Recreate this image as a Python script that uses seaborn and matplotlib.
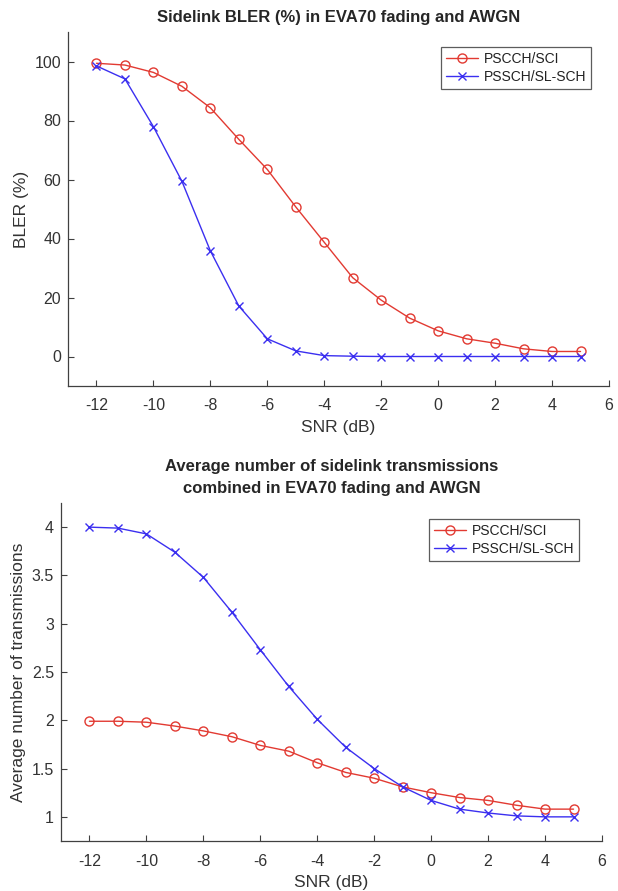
import numpy as np
import pandas as pd
import matplotlib
matplotlib.use("Agg")
import matplotlib.pyplot as plt
import seaborn as sns

snr = [-12, -11, -10, -9, -8, -7, -6, -5, -4, -3, -2, -1, 0, 1, 2, 3, 4, 5]
bler_pscch = [99.4, 98.8, 96.3, 91.6, 84.3, 73.6, 63.4, 50.7, 38.7, 26.7, 19.1, 13.0, 8.7, 6.0, 4.5, 2.6, 1.7, 1.7]
bler_pssch = [98.5, 94.1, 77.9, 59.4, 35.8, 17.1, 6.0, 1.9, 0.3, 0.1, 0.0, 0.0, 0.0, 0.0, 0.0, 0.0, 0.0, 0.0]
tx_pscch = [1.99, 1.99, 1.98, 1.94, 1.89, 1.83, 1.74, 1.68, 1.56, 1.46, 1.40, 1.31, 1.25, 1.20, 1.17, 1.12, 1.08, 1.08]
tx_pssch = [4.00, 3.99, 3.93, 3.74, 3.48, 3.12, 2.73, 2.35, 2.01, 1.72, 1.50, 1.31, 1.17, 1.08, 1.04, 1.01, 1.00, 1.00]
labels = ["PSCCH/SCI", "PSSCH/SL-SCH"]
xticks = [-12, -10, -8, -6, -4, -2, 0, 2, 4, 6]

sns.set_theme(style="ticks")
plt.rcParams['font.family'] = ['Liberation Sans', 'DejaVu Sans']

RED = '#e23a32'
BLUE = '#3b2ff0'
AX_COL = '#404040'
TXT = '#333333'

fig = plt.figure(figsize=(6.18, 8.91), dpi=100)
W, H = 618, 891
ax1 = fig.add_axes([68 / W, 1 - 386 / H, (609 - 68) / W, (386 - 32) / H])
ax2 = fig.add_axes([61 / W, 1 - 841 / H, (602 - 61) / W, (841 - 503) / H])


def draw(ax, y1, y2, leg_anchor):
    df = pd.DataFrame({"snr": snr * 2, "val": list(y1) + list(y2),
                       "series": [labels[0]] * len(snr) + [labels[1]] * len(snr)})
    sns.lineplot(data=df[df.series == labels[0]], x="snr", y="val", ax=ax, color=RED,
                 marker='o', markersize=6.5, mfc='none', mec=RED, mew=1.0, lw=1.0,
                 label=labels[0])
    sns.lineplot(data=df[df.series == labels[1]], x="snr", y="val", ax=ax, color=BLUE,
                 marker='x', markersize=5.5, mec=BLUE, mew=1.0, lw=1.0,
                 label=labels[1])
    ax.set_xlim(-13, 6)
    ax.set_xticks(xticks)
    ax.set_xticklabels([str(t) for t in xticks])
    sns.despine(ax=ax)
    for s in ['left', 'bottom']:
        ax.spines[s].set_color(AX_COL)
        ax.spines[s].set_linewidth(0.9)
    ax.tick_params(direction='in', length=4, width=0.8, color=AX_COL,
                   labelsize=11.5, labelcolor=TXT, pad=5)
    ax.tick_params(axis='x', pad=9)
    ax.set_xlabel("SNR (dB)", fontsize=12.5, color=TXT, labelpad=5)
    leg = ax.legend(loc='upper right', bbox_to_anchor=leg_anchor, fontsize=10,
                    frameon=True, fancybox=False,
                    handlelength=2.3, borderpad=0.35, labelspacing=0.3,
                    handletextpad=0.4, borderaxespad=0.0)
    leg.get_frame().set_edgecolor('#333333')
    leg.get_frame().set_linewidth(0.9)
    for t in leg.get_texts():
        t.set_color('#222222')


draw(ax1, bler_pscch, bler_pssch, (0.9667, 0.9576))
ax1.set_ylim(-10, 110)
ax1.set_yticks([0, 20, 40, 60, 80, 100])
ax1.set_ylabel("BLER (%)", fontsize=12.5, color=TXT, labelpad=4)
ax1.set_title("Sidelink BLER (%) in EVA70 fading and AWGN", fontsize=12,
              fontweight='bold', pad=7)

draw(ax2, tx_pscch, tx_pssch, (0.9575, 0.9527))
ax2.set_ylim(0.75, 4.25)
ax2.set_yticks([1, 1.5, 2, 2.5, 3, 3.5, 4])
ax2.set_yticklabels(["1", "1.5", "2", "2.5", "3", "3.5", "4"])
ax2.set_ylabel("Average number of transmissions", fontsize=12.5, color=TXT, labelpad=4)
ax2.set_title("Average number of sidelink transmissions\ncombined in EVA70 fading and AWGN",
              fontsize=12, fontweight='bold', pad=7, linespacing=1.6)

fig.savefig("out.png", dpi=100)
